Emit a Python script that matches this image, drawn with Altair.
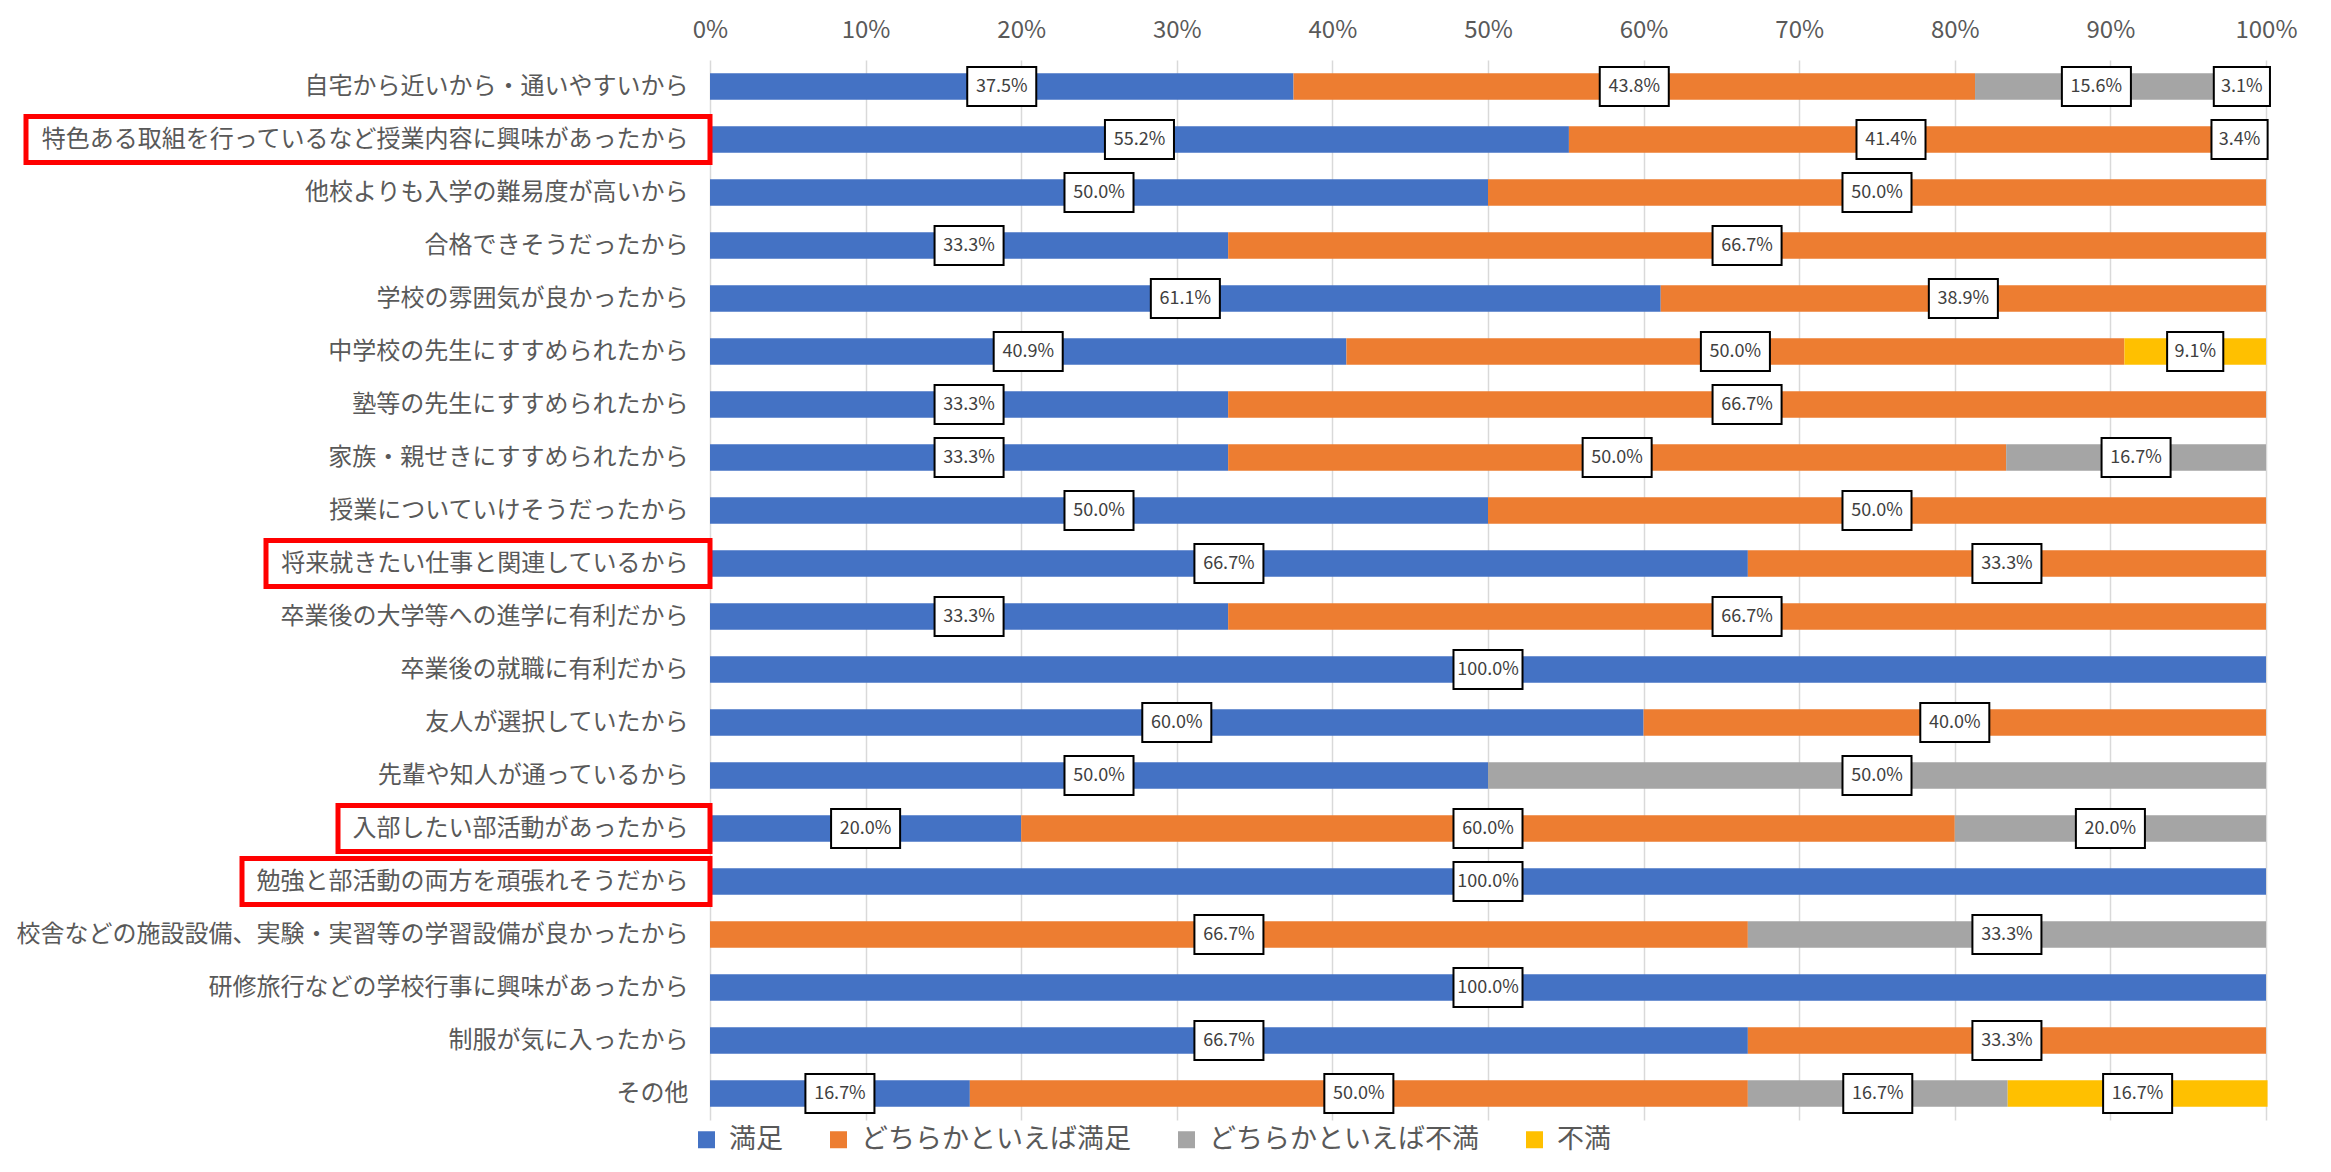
import altair as alt
import pandas as pd

categories = [
    "自宅から近いから・通いやすいから",
    "特色ある取組を行っているなど授業内容に興味があったから",
    "他校よりも入学の難易度が高いから",
    "合格できそうだったから",
    "学校の雰囲気が良かったから",
    "中学校の先生にすすめられたから",
    "塾等の先生にすすめられたから",
    "家族・親せきにすすめられたから",
    "授業についていけそうだったから",
    "将来就きたい仕事と関連しているから",
    "卒業後の大学等への進学に有利だから",
    "卒業後の就職に有利だから",
    "友人が選択していたから",
    "先輩や知人が通っているから",
    "入部したい部活動があったから",
    "勉強と部活動の両方を頑張れそうだから",
    "校舎などの施設設備、実験・実習等の学習設備が良かったから",
    "研修旅行などの学校行事に興味があったから",
    "制服が気に入ったから",
    "その他",
]
series = ["満足", "どちらかといえば満足", "どちらかといえば不満", "不満"]
colors = ["#4472C4", "#ED7D31", "#A5A5A5", "#FFC000"]

satisfied = [37.5, 55.2, 50.0, 33.3, 61.1, 40.9, 33.3, 33.3, 50.0, 66.7,
             33.3, 100.0, 60.0, 50.0, 20.0, 100.0, 0, 100.0, 66.7, 16.7]
somewhat_satisfied = [43.8, 41.4, 50.0, 66.7, 38.9, 50.0, 66.7, 50.0, 50.0, 33.3,
                      66.7, 0, 40.0, 0, 60.0, 0, 66.7, 0, 33.3, 50.0]
somewhat_dissatisfied = [15.6, 3.4, 0, 0, 0, 0, 0, 16.7, 0, 0,
                         0, 0, 0, 50.0, 20.0, 0, 33.3, 0, 0, 16.7]
dissatisfied = [3.1, 0, 0, 0, 0, 9.1, 0, 0, 0, 0,
                0, 0, 0, 0, 0, 0, 0, 0, 0, 16.7]

highlighted = [categories[1], categories[9], categories[14], categories[15]]

FONT = "Noto Sans CJK JP"
CAT_FS = 24
LABEL_PAD = 22

all_vals = [satisfied, somewhat_satisfied, somewhat_dissatisfied, dissatisfied]
rows = []
for i, cat in enumerate(categories):
    start = 0.0
    for k, s in enumerate(series):
        v = all_vals[k][i]
        if v > 0:
            lab = f"{v:.1f}%"
            rows.append({
                "cat": cat, "series": s, "idx": k,
                "start": start, "end": start + v, "mid": start + v / 2,
                "label": lab, "kind": "long" if len(lab) >= 5 else "short",
            })
            start += v
df = pd.DataFrame(rows)

hl = pd.DataFrame({"cat": highlighted, "n": [len(c) for c in highlighted]})

yenc = alt.Y(
    "cat:N", sort=categories, title=None,
    scale=alt.Scale(paddingInner=0.5, paddingOuter=0.25),
    axis=alt.Axis(labelFont=FONT, labelFontSize=CAT_FS, labelColor="#595959",
                  labelLimit=1000, ticks=False, domain=False,
                  labelPadding=LABEL_PAD),
)
xscale = alt.Scale(domain=[0, 100])

bars = alt.Chart(df).mark_bar().encode(
    y=yenc,
    x=alt.X("start:Q", scale=xscale, title=None,
            axis=alt.Axis(orient="top", values=list(range(0, 101, 10)),
                          labelExpr="datum.value + '%'", grid=True,
                          gridColor="#D9D9D9", gridWidth=1.5, domain=False,
                          ticks=False, labelFont=FONT, labelFontSize=24,
                          labelColor="#595959", labelPadding=18,
                          labelFlush=False, labelOverlap=False)),
    x2="end:Q",
    color=alt.Color("series:N", scale=alt.Scale(domain=series, range=colors),
                    legend=alt.Legend(title=None, orient="none", direction="horizontal",
                                      legendX=-17, legendY=1066,
                                      labelFont=FONT, labelFontSize=27,
                                      labelLimit=1000,
                                      labelColor="#595959", symbolType="square",
                                      symbolSize=289, symbolStrokeWidth=0,
                                      columnPadding=42, labelOffset=9)),
)

redbox = alt.Chart(hl).mark_bar(size=46, fillOpacity=0, stroke="#FF0000",
                                strokeWidth=5).transform_calculate(
    left=f"-({LABEL_PAD} + datum.n * {CAT_FS} + 14)"
).encode(
    y=alt.Y("cat:N", sort=categories),
    x=alt.X("left:Q", scale=None),
    x2=alt.value(-7),
)

path_long = "M-1.77,-1H1.77V1H-1.77Z"
path_short = "M-1.44,-1H1.44V1H-1.44Z"

boxes = alt.Chart(df).mark_point(filled=True, opacity=1, size=1521,
                                 strokeWidth=2).encode(
    y=alt.Y("cat:N", sort=categories),
    x=alt.X("mid:Q", scale=xscale),
    shape=alt.Shape("kind:N", scale=alt.Scale(domain=["long", "short"],
                                              range=[path_long, path_short]),
                    legend=None),
    fill=alt.value("white"),
    stroke=alt.value("black"),
)

texts = alt.Chart(df).mark_text(font=FONT, fontSize=18, color="#404040").encode(
    y=alt.Y("cat:N", sort=categories),
    x=alt.X("mid:Q", scale=xscale),
    text="label:N",
)

chart = alt.layer(bars, redbox, boxes, texts).properties(
    width=1556, height=1060,
    padding={"left": 702, "top": 52, "right": 40, "bottom": 44},
    autosize=alt.AutoSizeParams(type="none"),
).configure_view(stroke=None)

chart.save("out.html", embed_options={"renderer": "svg", "actions": False})
